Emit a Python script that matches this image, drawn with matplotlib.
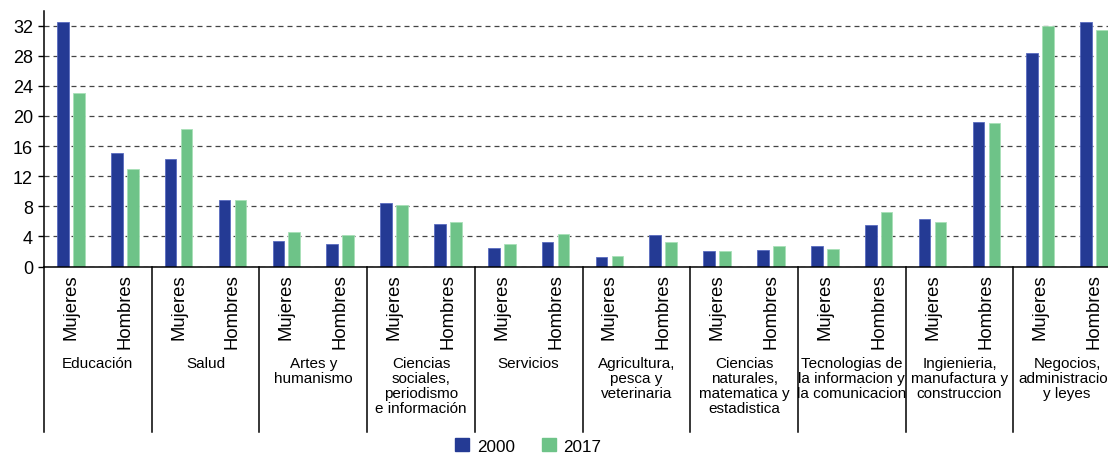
import numpy as np
import matplotlib.pyplot as plt
import matplotlib.patches as patches
import matplotlib.transforms as transforms

plt.rcParams['font.family'] = ['Liberation Sans', 'DejaVu Sans']

categories = ["Educación", "Salud", "Artes y\nhumanismo",
              "Ciencias\nsociales,\nperiodismo\ne información", "Servicios",
              "Agricultura,\npesca y\nveterinaria",
              "Ciencias\nnaturales,\nmatematica y\nestadistica",
              "Tecnologias de\nla informacion y\nla comunicacion",
              "Ingienieria,\nmanufactura y\nconstruccion",
              "Negocios,\nadministracion\ny leyes"]
genders = ["Mujeres", "Hombres"]

# values per category: [Mujeres, Hombres]
v2000 = [[32.5, 15.1], [14.3, 8.9], [3.35, 2.95], [8.4, 5.6], [2.4, 3.2],
         [1.25, 4.15], [2.0, 2.15], [2.7, 5.5], [6.3, 19.2], [28.4, 32.5]]
v2017 = [[23.1, 12.9], [18.3, 8.9], [4.55, 4.15], [8.15, 5.9], [2.95, 4.3],
         [1.4, 3.2], [2.0, 2.7], [2.3, 7.2], [5.9, 19.1], [31.9, 31.4]]
years = ["2000", "2017"]

col2000 = '#243a94'
col2017 = '#6ec388'

my_dpi = 100
fig = plt.figure(figsize=(1108 / my_dpi, 456 / my_dpi), dpi=my_dpi)
ax = fig.add_axes([44 / 1108, 1 - 267.5 / 456, 1077 / 1108, 255.2 / 456])

a2000 = np.array(v2000).ravel()
a2017 = np.array(v2017).ravel()
xs = np.arange(len(a2000)) + 0.5
w = 0.217
off = 0.148
ax.bar(xs - off, a2000, w, color=col2000, edgecolor='#5a6cc0', linewidth=0.6)
ax.bar(xs + off, a2017, w, color=col2017, edgecolor='#a8e0b8', linewidth=0.6)

ax.set_xlim(0, len(a2000))
ax.set_ylim(0, 33.9)
ax.set_yticks(np.arange(0, 33, 4))
ax.tick_params(axis='y', length=4, width=1, pad=4, labelsize=13)
ax.yaxis.grid(True, color='#444444', linestyle=(0, (4, 3.2)), linewidth=0.9)
ax.set_axisbelow(True)

ax.set_xticks(xs, genders * len(categories), rotation=90)
ax.tick_params(axis='x', length=0, pad=5, labelsize=13.3)
for lab in ax.get_xticklabels():
    lab.set_va('top')

for s in ['top', 'right']:
    ax.spines[s].set_visible(False)
ax.spines['left'].set_linewidth(1.1)
ax.spines['bottom'].set_linewidth(1.1)

trans = transforms.blended_transform_factory(ax.transData, ax.transAxes)
for i in range(len(categories) + 1):
    ax.plot([2 * i, 2 * i], [0, -0.6485], color='black', linewidth=1.1,
            transform=trans, clip_on=False)
for i, c in enumerate(categories):
    ax.text(2 * i + 1, -0.35, c, transform=trans, ha='center', va='top',
            fontsize=11, linespacing=1.1)

handles = [patches.Patch(color=col2000), patches.Patch(color=col2017)]
fig.legend(handles, years, loc='center', bbox_to_anchor=(0.477, 0.02),
           ncol=2, frameon=False, fontsize=12.3, handlelength=0.8,
           handleheight=0.8, handletextpad=0.45, columnspacing=1.6)

fig.savefig('out.png', dpi=my_dpi)
